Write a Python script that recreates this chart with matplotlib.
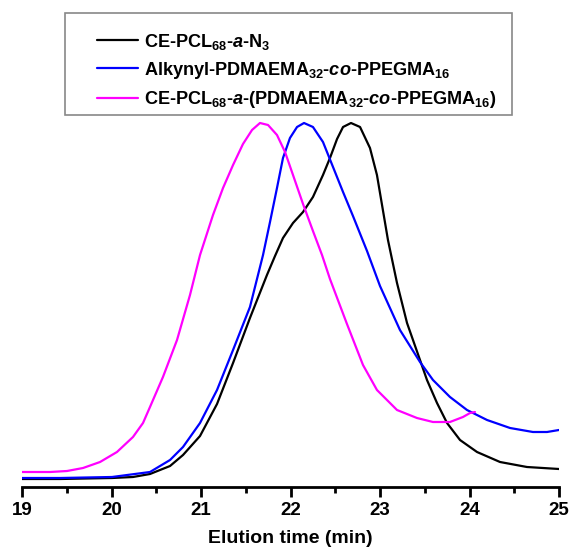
import matplotlib
matplotlib.use("Agg")
import matplotlib.pyplot as plt
from matplotlib.patches import Rectangle
from matplotlib.ticker import MultipleLocator

plt.rcParams['font.family'] = ['Liberation Sans', 'DejaVu Sans']
plt.rcParams['font.weight'] = 'bold'
plt.rcParams['mathtext.fontset'] = 'custom'
plt.rcParams['mathtext.rm'] = 'Liberation Sans:bold'
plt.rcParams['mathtext.it'] = 'Liberation Sans:bold:italic'
plt.rcParams['mathtext.bf'] = 'Liberation Sans:bold'

# Data (elution time in min, detector signal in arbitrary units)
black_x = [19.000, 19.425, 20.006, 20.240, 20.430, 20.654, 20.799, 20.989, 21.179, 21.358,
           21.547, 21.737, 21.827, 21.916, 22.028, 22.140, 22.251, 22.363, 22.441, 22.520,
           22.587, 22.676, 22.777, 22.888, 22.966, 23.000, 23.089, 23.190, 23.302, 23.447,
           23.525, 23.637, 23.749, 23.894, 24.084, 24.341, 24.642, 25.000]
black_y = [8, 8, 9, 10, 13, 21, 32, 51, 83, 124,
           169, 212, 231, 249, 264, 275, 290, 312, 329, 348,
           360, 364, 360, 339, 312, 294, 247, 204, 164, 127,
           107, 84, 64, 47, 35, 25, 20, 18]

blue_x = [19.000, 19.425, 20.006, 20.430, 20.654, 20.799, 20.989, 21.179, 21.358, 21.547,
          21.693, 21.771, 21.849, 21.916, 21.994, 22.073, 22.151, 22.251, 22.363, 22.475,
          22.587, 22.698, 22.855, 23.000, 23.223, 23.447, 23.592, 23.782, 23.972,
          24.196, 24.453, 24.709, 24.866, 25.000]
blue_y = [9, 9, 10, 15, 27, 40, 64, 97, 137, 180,
          232, 265, 299, 329, 349, 360, 364, 360, 345, 320,
          295, 271, 236, 201, 157, 125, 107, 90, 77,
          67, 59, 55, 55, 57]

mag_x = [19.000, 19.313, 19.503, 19.682, 19.872, 20.061, 20.240, 20.352, 20.430, 20.575,
         20.732, 20.877, 20.989, 21.134, 21.246, 21.358, 21.469, 21.570, 21.659, 21.749,
         21.849, 21.939, 22.028, 22.140, 22.251, 22.352, 22.441, 22.631, 22.810, 22.966,
         23.190, 23.413, 23.592, 23.782, 23.927, 24.006, 24.061]
mag_y = [15, 15, 16, 19, 25, 35, 50, 64, 80, 110,
         147, 192, 232, 272, 299, 322, 343, 357, 364, 362,
         352, 335, 312, 283, 256, 232, 208, 163, 122, 97,
         77, 69, 65, 65, 70, 74, 75]

labels = [r'CE-PCL$_{68}$-$\mathit{a}$-N$_3$',
          r'Alkynyl-PDMAEMA$_{32}$-$\mathit{co}$-PPEGMA$_{16}$',
          r'CE-PCL$_{68}$-$\mathit{a}$-(PDMAEMA$_{32}$-$\mathit{co}$-PPEGMA$_{16}$)']
xticks = [19, 20, 21, 22, 23, 24, 25]

fig = plt.figure(figsize=(5.72, 5.48), dpi=100)
ax = fig.add_axes([22/572, (548-487)/548, (559-22)/572, 477/548])

kw = dict(lw=1.6, solid_joinstyle='round', solid_capstyle='round')
ax.plot(black_x, black_y, color='black', label=labels[0], **kw)
ax.plot(blue_x, blue_y, color='#0000ff', label=labels[1], **kw)
ax.plot(mag_x, mag_y, color='#ff00ff', label=labels[2], **kw)

ax.set_xlim(19, 25)
ax.set_ylim(0, 477)
for s in ['top', 'right', 'left']:
    ax.spines[s].set_visible(False)
ax.spines['bottom'].set_linewidth(2)
ax.set_yticks([])
ax.set_xticks(xticks)
ax.set_xticklabels([str(t) for t in xticks])
ax.xaxis.set_minor_locator(MultipleLocator(0.5))
ax.tick_params(axis='x', which='major', direction='out', length=7, width=2, labelsize=13.5, pad=4)
ax.tick_params(axis='x', which='minor', direction='out', length=4, width=2)
ax.set_xlabel('Elution time (min)', fontsize=14, fontweight='bold', labelpad=8)

rect = Rectangle((0.08, 0.78), 0.8324, 0.2137, transform=ax.transAxes, fill=False,
                 edgecolor='#888888', lw=1.2, clip_on=False)
ax.add_patch(rect)
leg = ax.legend(loc='upper left', bbox_to_anchor=(0.13, 0.966), frameon=False,
                fontsize=13.1, handlelength=2.25, handletextpad=0.3, labelspacing=0.45,
                borderpad=0.3, borderaxespad=0)

fig.savefig('out.png', dpi=100)
